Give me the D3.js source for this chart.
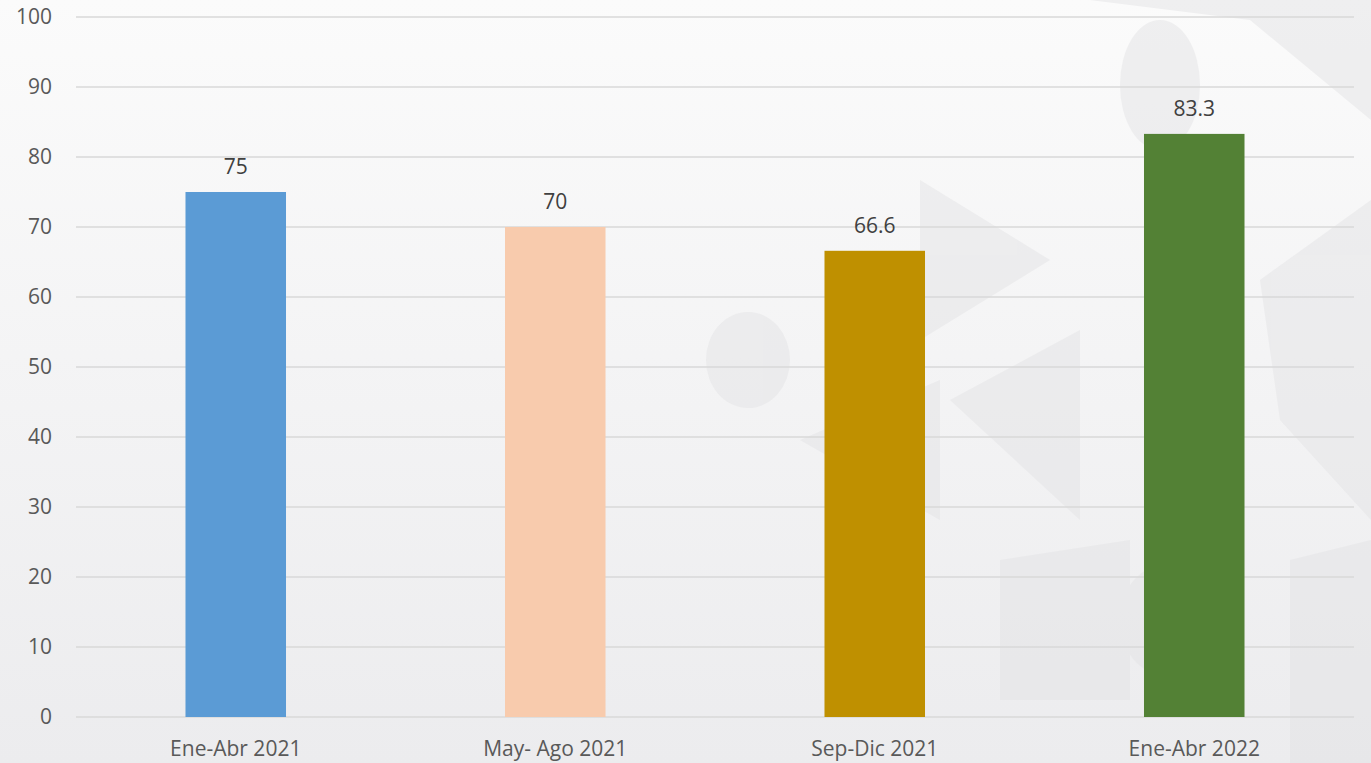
<!DOCTYPE html>
<html><head><meta charset="utf-8">
<script src="https://cdn.jsdelivr.net/npm/d3@7"></script>
<style>html,body{margin:0;padding:0;overflow:hidden;background:#f4f4f5;}</style>
</head><body>
<svg id="c" width="1371" height="763"></svg>
<script>
const categories = ["Ene-Abr 2021", "May- Ago 2021", "Sep-Dic 2021", "Ene-Abr 2022"];
const values = [75, 70, 66.6, 83.3];
const labels = ["75", "70", "66.6", "83.3"];
const colors = ["#5B9BD5", "#F8CBAD", "#BF9000", "#538135"];
const yTicks = [0, 10, 20, 30, 40, 50, 60, 70, 80, 90, 100];

const svg = d3.select("#c");
const W = 1371, H = 763;
const font = "'Open Sans', 'Liberation Sans', sans-serif";

// background
const defs = svg.append("defs");
const g1 = defs.append("linearGradient").attr("id","bg").attr("x1","0").attr("y1","0").attr("x2","0").attr("y2","1");
g1.append("stop").attr("offset","0").attr("stop-color","#fbfbfb");
g1.append("stop").attr("offset","1").attr("stop-color","#ececee");
svg.append("rect").attr("width",W).attr("height",H).attr("fill","url(#bg)");
// faint decorative shapes
const deco = svg.append("g").attr("fill","#e4e4e6").attr("opacity",0.5);
deco.append("ellipse").attr("cx",748).attr("cy",360).attr("rx",42).attr("ry",48);
deco.append("ellipse").attr("cx",1160).attr("cy",85).attr("rx",40).attr("ry",65);
deco.append("ellipse").attr("cx",1165).attr("cy",620).attr("rx",45).attr("ry",55);
deco.append("polygon").attr("points","920,180 1050,260 920,340");
deco.append("polygon").attr("points","1090,0 1371,0 1371,120 1250,20");
deco.append("polygon").attr("points","1260,280 1371,200 1371,520 1280,420");
deco.append("polygon").attr("points","950,400 1080,330 1080,520");
deco.append("polygon").attr("points","1000,560 1130,540 1130,700 1000,700");
deco.append("polygon").attr("points","1290,560 1371,540 1371,763 1290,763");
deco.append("polygon").attr("points","800,440 940,380 940,520");

const x = d3.scaleBand().domain(categories).range([76, 1354]).paddingInner(0.6854).paddingOuter(0.3427);
const y = d3.scaleLinear().domain([0, 100]).range([717, 17]);

// gridlines
svg.append("g").selectAll("line").data(yTicks).join("line")
  .attr("x1", 76).attr("x2", 1354)
  .attr("y1", d => y(d)).attr("y2", d => y(d))
  .attr("stroke", "#d9d9d9").attr("stroke-width", 1.3);

// y axis
const ya = svg.append("g").attr("transform","translate(60,0)")
  .call(d3.axisLeft(y).tickValues(yTicks).tickSize(0).tickPadding(8));
ya.select(".domain").remove();
ya.selectAll("text").attr("font-family", font).attr("font-size", 21).attr("fill","#595959");

// bars
svg.append("g").selectAll("rect").data(values).join("rect")
  .attr("x", (d,i) => x(categories[i]))
  .attr("width", x.bandwidth())
  .attr("y", d => y(d))
  .attr("height", d => y(0) - y(d))
  .attr("fill", (d,i) => colors[i]);

// data labels
svg.append("g").selectAll("text").data(values).join("text")
  .attr("x", (d,i) => x(categories[i]) + x.bandwidth()/2)
  .attr("y", d => y(d) - 18)
  .attr("text-anchor","middle")
  .attr("font-family", font).attr("font-size", 21).attr("fill","#404040")
  .text((d,i) => labels[i]);

// x axis
const xa = svg.append("g").attr("transform","translate(0,717)")
  .call(d3.axisBottom(x).tickSize(0).tickPadding(24));
xa.select(".domain").remove();
xa.selectAll("text").attr("font-family", font).attr("font-size", 21).attr("fill","#595959");
</script>
</body></html>
